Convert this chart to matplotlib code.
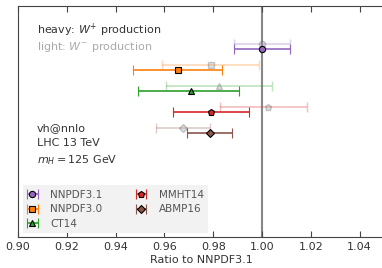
import numpy as np
import matplotlib
matplotlib.use("Agg")
import matplotlib.pyplot as plt

pdfs = ['NNPDF3.1', 'NNPDF3.0', 'CT14', 'MMHT14', 'ABMP16']
colors = ['#9467bd', '#ff7f0e', '#2ca02c', '#d62728', '#8c564b']
markers = ['o', 's', '^', 'p', 'D']

# W+ (heavy)
heavy = [1.000, 0.9656, 0.9710, 0.9792, 0.9787]
heavy_lo = [0.9885, 0.9473, 0.9493, 0.9637, 0.9691]
heavy_hi = [1.0115, 0.9836, 0.9905, 0.9948, 0.9878]

# W- (light)
light = [1.000, 0.9792, 0.9825, 1.0026, 0.9675]
light_lo = [0.9885, 0.9591, 0.9605, 0.9829, 0.9564]
light_hi = [1.0115, 0.9989, 1.0041, 1.0184, 0.9787]

plt.rcParams['font.size'] = 7.5
txt = '#333333'

fig = plt.figure(figsize=(3.82, 2.68), dpi=100)
ax = fig.add_axes([18/382, 31/268, 366/382, 231/268])

ax.axvline(1.0, color='#888888', lw=1.5, zorder=1)

for i in range(len(pdfs)):
	ax.errorbar(light[i], i - 0.105,
		xerr=[[light[i] - light_lo[i]], [light_hi[i] - light[i]]],
		fmt=markers[i], color=colors[i], alpha=0.3, ms=4.5,
		mfc='#999999', mec='#555555', capsize=3.5, lw=1.2, zorder=2)
	ax.errorbar(heavy[i], i + 0.105,
		xerr=[[heavy[i] - heavy_lo[i]], [heavy_hi[i] - heavy[i]]],
		fmt=markers[i], color=colors[i], ms=4.5 if markers[i] != 'D' else 4,
		mfc=colors[i], mec='black', mew=0.8, capsize=3.5, lw=1.2,
		label=pdfs[i], zorder=3)

ax.set_xlim(0.9, 1.05)
ax.set_ylim(9.08, -1.92)
ax.set_yticks([])
ax.set_xticks([0.90, 0.92, 0.94, 0.96, 0.98, 1.00, 1.02, 1.04])
ax.tick_params(axis='x', direction='in', top=True, length=4, colors='#444444', labelcolor=txt, labelsize=8)
for s in ['left', 'bottom', 'top']:
	ax.spines[s].set_color('#444444')
ax.spines['right'].set_visible(False)
ax.set_xlabel('Ratio to NNPDF3.1', color=txt, fontsize=8, labelpad=2)

ax.text(0.052, 0.896, 'heavy: $W^{+}$ production', transform=ax.transAxes, va='center', color=txt, fontsize=8)
ax.text(0.052, 0.823, 'light: $W^{-}$ production', transform=ax.transAxes, va='center', color='#aaaaaa', fontsize=8)
ax.text(0.052, 0.472, 'vh@nnlo', transform=ax.transAxes, va='center', color=txt, fontsize=8)
ax.text(0.052, 0.408, 'LHC 13 TeV', transform=ax.transAxes, va='center', color=txt, fontsize=8)
ax.text(0.052, 0.333, '$m_H = 125$ GeV', transform=ax.transAxes, va='center', color=txt, fontsize=8)

leg = ax.legend(loc='lower left', bbox_to_anchor=(0.014, 0.017), borderaxespad=0,
	ncol=2, fancybox=False, facecolor='#f2f2f2', edgecolor='none', framealpha=1,
	handlelength=1.0, columnspacing=3.2, handletextpad=1.2, labelspacing=0.45,
	fontsize=7.5)
for t in leg.get_texts():
	t.set_color('#555555')

fig.savefig('out.png', dpi=100)
